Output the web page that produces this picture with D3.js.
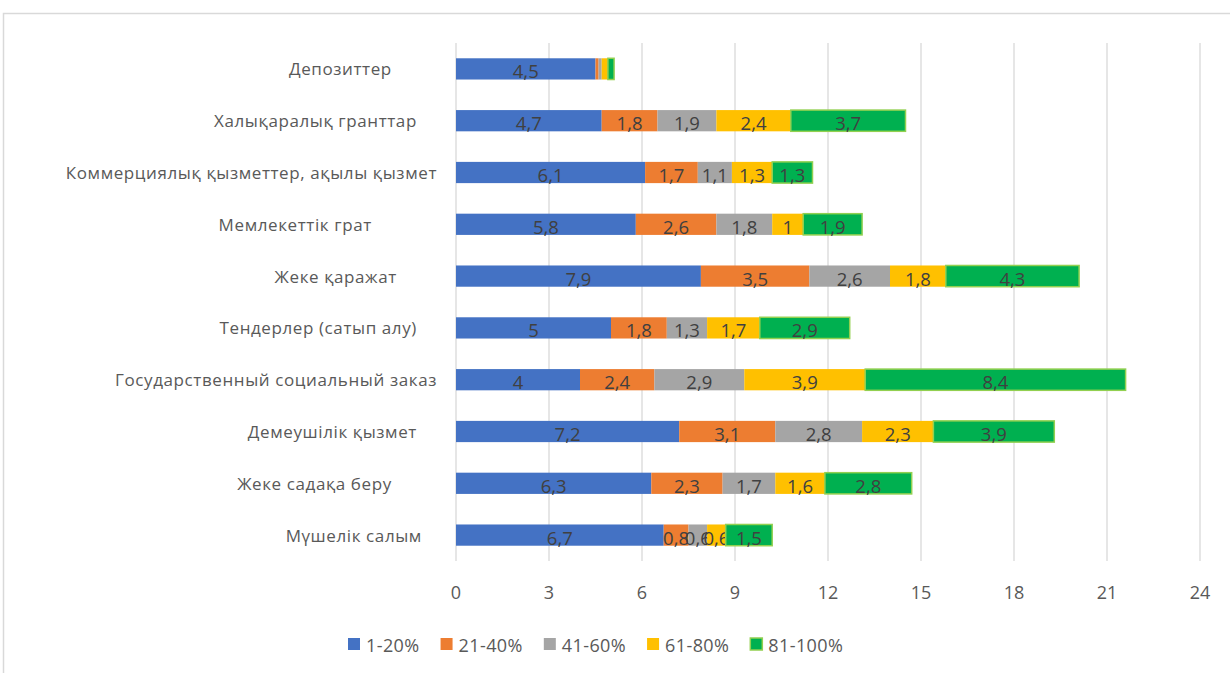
<!DOCTYPE html>
<html>
<head>
<meta charset="utf-8">
<script src="https://cdn.jsdelivr.net/npm/d3@7"></script>
<style>
  body { margin: 0; background: #fff; }
  text { font-family: "Open Sans", "Noto Sans", sans-serif; }
</style>
</head>
<body>
<div id="vis"></div>
<script>
// categories, top to bottom (trailing spaces kept as in the source sheet)
var categories = [
  "Депозиттер         ",
  "Халықаралық гранттар    ",
  "Коммерциялық қызметтер, ақылы қызмет",
  "Мемлекеттік грат             ",
  "Жеке қаражат        ",
  "Тендерлер (сатып алу)    ",
  "Государственный социальный заказ",
  "Демеушілік қызмет    ",
  "Жеке садақа беру         ",
  "Мүшелік салым   "
];
var seriesNames = ["1-20%", "21-40%", "41-60%", "61-80%", "81-100%"];
var s1 = [4.5, 4.7, 6.1, 5.8, 7.9, 5.0, 4.0, 7.2, 6.3, 6.7];
var s2 = [0.1, 1.8, 1.7, 2.6, 3.5, 1.8, 2.4, 3.1, 2.3, 0.8];
var s3 = [0.1, 1.9, 1.1, 1.8, 2.6, 1.3, 2.9, 2.8, 1.7, 0.6];
var s4 = [0.2, 2.4, 1.3, 1.0, 1.8, 1.7, 3.9, 2.3, 1.6, 0.6];
var s5 = [0.2, 3.7, 1.3, 1.9, 4.3, 2.9, 8.4, 3.9, 2.8, 1.5];
var xTicks = [0, 3, 6, 9, 12, 15, 18, 21, 24];

var colors = ["#4472c4", "#ed7d31", "#a5a5a5", "#ffc000", "#00b050"];

var width = 1230, height = 673;
var svg = d3.select("#vis").append("svg")
    .attr("width", width)
    .attr("height", height);

// chart frame
svg.append("rect")
    .attr("x", 3.5).attr("y", 13.5)
    .attr("width", 1300).attr("height", 700)
    .attr("fill", "none")
    .attr("stroke", "#d9d9d9")
    .attr("stroke-width", 1.5);

var x = d3.scaleLinear().domain([0, 24]).range([456, 1200]);
var y = d3.scaleBand().domain(categories).range([43, 561])
    .paddingInner(0.59).paddingOuter(0.295);

// gridlines
svg.append("g").selectAll("line")
    .data(xTicks)
    .enter().append("line")
    .attr("x1", function(d) { return x(d); })
    .attr("x2", function(d) { return x(d); })
    .attr("y1", 43).attr("y2", 561)
    .attr("stroke", "#d9d9d9")
    .attr("stroke-width", 1.3);

// tick labels
svg.append("g").selectAll("text")
    .data(xTicks)
    .enter().append("text")
    .attr("x", function(d) { return x(d); })
    .attr("y", 592)
    .attr("text-anchor", "middle")
    .attr("dominant-baseline", "central")
    .style("font-size", "18px")
    .style("fill", "#595959")
    .text(function(d) { return d; });

// category labels
svg.append("g").selectAll("text")
    .data(categories)
    .enter().append("text")
    .attr("x", 437)
    .attr("y", function(d) { return y(d) + y.bandwidth() / 2; })
    .attr("text-anchor", "end")
    .attr("dominant-baseline", "central")
    .style("white-space", "pre")
    .style("font-size", "17px")
    .style("letter-spacing", "0.6px")
    .style("fill", "#595959")
    .text(function(d) { return d; });

// stack
var rows = categories.map(function(c, i) {
  return { cat: c, "1-20%": s1[i], "21-40%": s2[i], "41-60%": s3[i], "61-80%": s4[i], "81-100%": s5[i] };
});
var stacked = d3.stack().keys(seriesNames)(rows);

var fmt = function(v) { return String(v).replace(".", ","); };

var layers = svg.append("g").selectAll("g")
    .data(stacked)
    .enter().append("g")
    .attr("fill", function(d, i) { return colors[i]; });

layers.selectAll("rect")
    .data(function(d) { return d.map(function(p) { p.key = d.key; return p; }); })
    .enter().append("rect")
    .attr("x", function(d) { return x(d[0]); })
    .attr("y", function(d) { return y(d.data.cat); })
    .attr("width", function(d) { return x(d[1]) - x(d[0]); })
    .attr("height", y.bandwidth())
    .attr("stroke", function(d) { return d.key === "81-100%" ? "#92d050" : "none"; })
    .attr("stroke-width", 1.5);

// data labels
layers.selectAll("text")
    .data(function(d) { return d.filter(function(p) { return p[1] - p[0] >= 0.5; }); })
    .enter().append("text")
    .attr("x", function(d) { return (x(d[0]) + x(d[1])) / 2; })
    .attr("y", function(d) { return y(d.data.cat) + y.bandwidth() / 2 + 2; })
    .attr("text-anchor", "middle")
    .attr("dominant-baseline", "central")
    .style("font-size", "18.5px")
    .style("fill", "#404040")
    .text(function(d) { return fmt(+(d[1] - d[0]).toFixed(1)); });

// legend
var legend = svg.append("g");
var lx = 348;
seriesNames.forEach(function(name, i) {
  legend.append("rect")
      .attr("x", lx).attr("y", 638)
      .attr("width", 12).attr("height", 12)
      .attr("fill", colors[i])
      .attr("stroke", i === 4 ? "#92d050" : "none")
      .attr("stroke-width", 1.5);
  var t = legend.append("text")
      .attr("x", lx + 18).attr("y", 645)
      .attr("dominant-baseline", "central")
      .style("font-size", "18px")
      .style("letter-spacing", "0.4px")
      .style("fill", "#595959")
      .text(name);
  lx += 18 + t.node().getComputedTextLength() + 21;
});
</script>
</body>
</html>
